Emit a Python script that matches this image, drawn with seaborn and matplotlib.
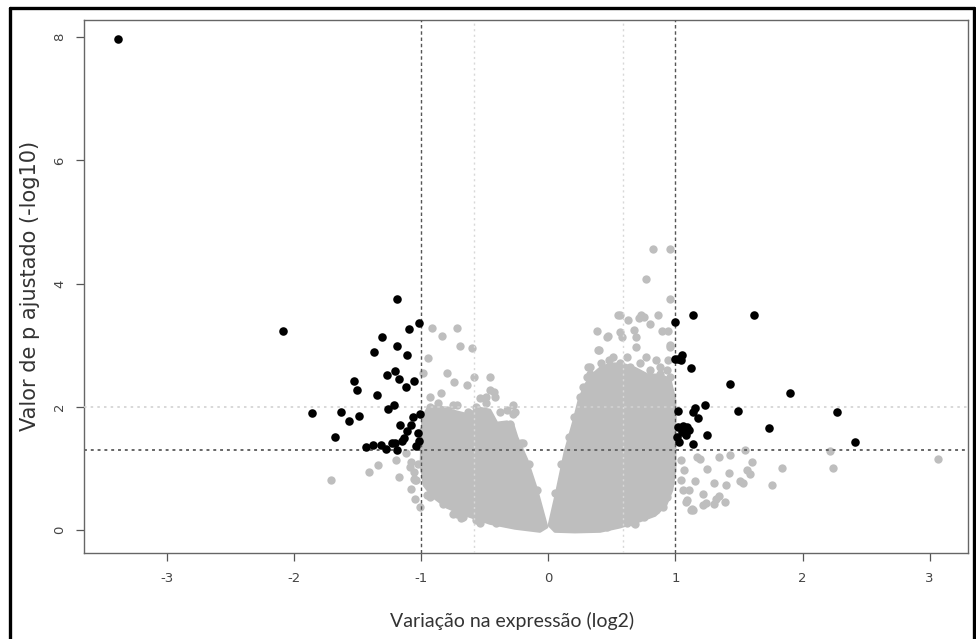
import matplotlib
matplotlib.use("Agg")
import matplotlib.pyplot as plt
import seaborn as sns
import pandas as pd
from matplotlib.lines import Line2D

# ---------------- data ----------------
# significant genes (black)
sig_x = [-3.39, -2.09, -1.19, -1.02, -1.10, -1.31, -1.19, -1.37, -1.11, -1.21, -1.27,
         -1.18, -1.53, -1.51, -1.06, -1.12, -1.35, -1.22, -1.26, -1.86, -1.63, -1.49,
         -1.57, -1.01, -1.07, -1.17, -1.08, -1.11, -1.03, -1.14, -1.15, -1.68, -1.02,
         -1.44, -1.38, -1.32, -1.28, -1.23, -1.19, -1.21, -1.04,
         1.14, 1.62, 1.00, 1.00, 1.02, 1.05, 1.04, 1.12, 1.43, 1.90, 1.23, 1.15, 1.14,
         1.02, 1.49, 2.27, 1.18, 1.74, 1.06, 1.09, 1.11, 1.02, 1.05, 1.08, 1.01, 1.03,
         1.25, 1.14, 2.41]
sig_y = [7.97, 3.24, 3.76, 3.36, 3.26, 3.13, 2.99, 2.89, 2.85, 2.59, 2.52,
         2.46, 2.42, 2.27, 2.42, 2.32, 2.20, 2.03, 1.97, 1.90, 1.92, 1.85,
         1.77, 1.88, 1.84, 1.70, 1.71, 1.61, 1.58, 1.50, 1.44, 1.51, 1.44,
         1.35, 1.38, 1.38, 1.32, 1.41, 1.30, 1.42, 1.36,
         3.50, 3.50, 3.38, 2.78, 2.78, 2.84, 2.76, 2.63, 2.38, 2.22, 2.03, 1.99, 1.92,
         1.93, 1.94, 1.92, 1.82, 1.66, 1.69, 1.68, 1.62, 1.68, 1.60, 1.54, 1.51, 1.43,
         1.55, 1.40, 1.43]

# non-significant genes (grey) outside / on the rim of the dense cloud
ns_x = [0.82, 0.96, 0.77, 0.96, 0.56, 0.73, 0.86, 0.63, 0.71, 0.38, 0.56, 0.47, 0.58,
        0.69, 0.80, 0.89, 0.94, 0.96, 0.40, 0.69, 0.94, 0.31, 0.46, 0.39, 0.51, 0.62,
        0.77, 0.85, 0.93, 0.88, 0.96, 0.93, 0.33, 0.30, 0.67, 0.75, 0.55,
        0.80, 0.88, 0.83, 0.93, 0.88, 0.83, 0.93, 0.90, 0.80, 0.69, 0.67,
        1.06, 1.09, 1.14, 1.07, 1.17, 1.04, 1.04,
        1.34, 1.43, 1.55, 1.19, 1.60, 1.25, 1.56, 1.59, 1.42, 1.84, 1.15, 1.30, 1.40,
        1.51, 1.53, 1.76, 1.11, 1.22, 1.34, 1.08, 1.22, 1.30, 1.39, 1.12, 1.13, 1.24,
        1.32, 2.22, 2.24, 3.07,
        -0.92, -0.72, -0.84, -0.70, -0.60, -0.95, -0.80, -0.74, -0.64, -0.46, -0.43,
        -0.49, -0.28, -0.26, -0.59, -0.99, -0.85, -0.75, -0.54, -0.46, -0.38, -0.30,
        -0.93, -0.95, -1.12, -1.09, -1.05, -1.05, -1.01, -0.75, -0.67, -0.96, -0.54,
        -1.20, -1.08, -1.06, -1.34, -1.41, -1.71, -1.18, -1.06, -1.08, -0.69, 0.68,
        # rim of the left lobe
        -0.93, -0.87, -0.80, -0.72, -0.63, -0.57, -0.49, -0.42, -0.33, -0.28, -0.95,
        -0.99, -0.91, -0.22, -1.03, -1.04, -0.93, -0.83, -0.72, -0.57, -0.41, -0.22,
        -0.09, -0.15, -0.09, -0.20,
        # rim of the right lobe
        0.25, 0.27, 0.33, 0.41, 0.48, 0.56, 0.64, 0.72, 0.80, 0.88, 0.96, 0.96, 0.97,
        0.98, 0.97, 0.96, 0.93, 0.85, 0.75, 0.62, 0.46, 0.25, 0.14, 0.20, 0.16, 0.10,
        0.05]
ns_y = [4.56, 4.56, 4.07, 3.76, 3.50, 3.50, 3.49, 3.41, 3.44, 3.24, 3.22, 3.15, 3.14,
        3.14, 3.34, 3.23, 3.23, 3.00, 2.93, 2.98, 2.76, 2.65, 3.14, 2.92, 2.81, 2.81,
        2.81, 2.76, 2.60, 2.54, 2.98, 2.38, 2.65, 2.49, 3.25, 3.46, 3.49,
        2.00, 1.84, 1.73, 1.51, 1.14, 0.81, 0.65, 0.38, 0.32, 0.22, 0.11,
        0.65, 0.49, 0.32, 0.97, 1.19, 0.81, 1.14,
        1.19, 1.22, 1.30, 1.16, 1.11, 1.00, 0.97, 0.92, 0.93, 1.01, 0.80, 0.77, 0.74,
        0.80, 0.76, 0.73, 0.65, 0.58, 0.55, 0.46, 0.41, 0.43, 0.45, 0.32, 0.35, 0.44,
        0.50, 1.29, 1.01, 1.16,
        3.28, 3.28, 3.15, 2.99, 2.95, 2.79, 2.55, 2.41, 2.35, 2.49, 2.25,
        2.16, 2.03, 1.92, 2.49, 2.55, 2.22, 2.03, 2.14, 2.27, 1.92, 1.73,
        2.00, 1.73, 1.25, 1.03, 0.81, 0.51, 0.38, 0.27, 0.22, 0.57, 0.11,
        1.14, 1.11, 0.95, 1.06, 0.95, 0.81, 0.86, 0.83, 0.67, 0.20, 0.10,
        2.16, 2.06, 1.95, 2.03, 1.92, 2.00, 2.06, 2.16, 1.95, 1.89, 1.84,
        1.62, 1.73, 1.41, 1.08, 0.81, 0.54, 0.43, 0.27, 0.16, 0.11, 0.08,
        0.05, 1.08, 0.65, 1.41,
        2.16, 2.33, 2.54, 2.71, 2.76, 2.71, 2.65, 2.71, 2.60, 2.65, 2.49, 2.16, 1.84,
        1.51, 1.08, 0.76, 0.54, 0.32, 0.22, 0.11, 0.05, 0.03, 0.03, 1.84, 1.51, 1.08,
        0.60]

# outline of the dense core of the cloud of non-significant genes (two lobes)
lobe_left_x = [-0.012, -0.091, -0.169, -0.248, -0.280, -0.327, -0.406, -0.461, -0.539,
               -0.642, -0.776, -0.870, -0.949, -0.988, -0.996, -1.004, -0.980, -0.909,
               -0.799, -0.673, -0.461, -0.264, -0.067]
lobe_left_y = [0.05, 0.65, 1.14, 1.51, 1.72, 1.76, 1.74, 1.95, 1.98,
               1.88, 1.95, 2.02, 1.98, 1.85, 1.62, 1.06, 0.73, 0.54,
               0.37, 0.26, 0.11, 0.03, -0.02]
lobe_right_x = [0.004, 0.067, 0.130, 0.201, 0.240, 0.287, 0.343, 0.406, 0.484, 0.579,
                0.681, 0.783, 0.878, 0.957, 0.996, 0.996, 0.972, 0.925, 0.839, 0.720,
                0.563, 0.406, 0.209, 0.051]
lobe_right_y = [0.08, 0.65, 1.27, 1.79, 2.11, 2.35, 2.52, 2.63, 2.70, 2.70,
                2.63, 2.52, 2.52, 2.45, 2.11, 0.97, 0.65, 0.41, 0.24, 0.15,
                0.05, -0.02, -0.03, -0.02]

fc_cut = 1.0
fc_cut_soft = 0.585
p_cut = 1.3
p_cut_soft = 2.0

x_ticks = [-3, -2, -1, 0, 1, 2, 3]
y_ticks = [0, 2, 4, 6, 8]
x_label = "Variação na expressão (log2)"
y_label = "Valor de p ajustado (-log10)"

# ---------------- figure ----------------
sns.set_theme(style="white")
plt.rcParams["font.family"] = ["DejaVu Sans"]

GREY = "#bebebe"
fig = plt.figure(figsize=(9.76, 6.39), dpi=100)
ax = fig.add_axes([84 / 976, 1 - 553 / 639, (968 - 84) / 976, (553 - 20) / 639])

# dense core of the cloud
ax.fill(lobe_left_x, lobe_left_y, color=GREY, lw=2, joinstyle="round", zorder=1)
ax.fill(lobe_right_x, lobe_right_y, color=GREY, lw=2, joinstyle="round", zorder=1)

ns = pd.DataFrame({"fc": ns_x, "p": ns_y})
sig = pd.DataFrame({"fc": sig_x, "p": sig_y})
sns.scatterplot(data=ns, x="fc", y="p", color=GREY, s=36, linewidth=0, ax=ax, zorder=2)

# threshold lines
ax.axhline(p_cut_soft, color="#d2d2d2", lw=1.2, ls=(0, (1.5, 2.5)), zorder=3)
ax.axhline(p_cut, color="#666666", lw=1.4, ls=(0, (1.5, 2.0)), zorder=3)
for v in (-fc_cut_soft, fc_cut_soft):
    ax.axvline(v, color="#d8d8d8", lw=1.0, ls=(0, (1.5, 2.5)), zorder=3)
for v in (-fc_cut, fc_cut):
    ax.axvline(v, color="#555555", lw=1.0, ls=(0, (2.5, 2.0)), zorder=3)

sns.scatterplot(data=sig, x="fc", y="p", color="black", s=38, linewidth=0, ax=ax, zorder=4)

ax.set_xlim(-3.657, 3.303)
ax.set_ylim(-0.37, 8.28)
ax.set_xticks(x_ticks)
ax.set_yticks(y_ticks)
ax.set_xticklabels([str(t) for t in x_ticks])
ax.set_yticklabels([str(t) for t in y_ticks], rotation=90, va="center")
ax.tick_params(axis="both", direction="out", length=6, width=0.9, color="#555555",
               labelsize=9.5, labelcolor="#444444", bottom=True, left=True)
ax.tick_params(axis="x", pad=8)
ax.tick_params(axis="y", pad=7)
ax.set_xlabel("")
ax.set_ylabel("")
for sp in ax.spines.values():
    sp.set_visible(True)
    sp.set_color("#666666")
    sp.set_linewidth(1.0)

fig.text(30 / 976, 1 - 286 / 639, y_label, rotation=90, ha="center", va="center",
         fontsize=15, color="#333333")
fig.text(512 / 976, 1 - 621 / 639, x_label, ha="center", va="center",
         fontsize=14, color="#333333", family=["Lato", "DejaVu Sans"])

# outer frame of the picture
for (xs, ys) in (([9.5 / 976, 9.5 / 976], [-0.1, 1 - 7.5 / 639]),
                 ([9.5 / 976, 973.5 / 976], [1 - 7.5 / 639, 1 - 7.5 / 639]),
                 ([973.5 / 976, 973.5 / 976], [-0.1, 1 - 7.5 / 639])):
    fig.add_artist(Line2D(xs, ys, transform=fig.transFigure, color="black", lw=2.4))

fig.savefig("out.png", dpi=100)
